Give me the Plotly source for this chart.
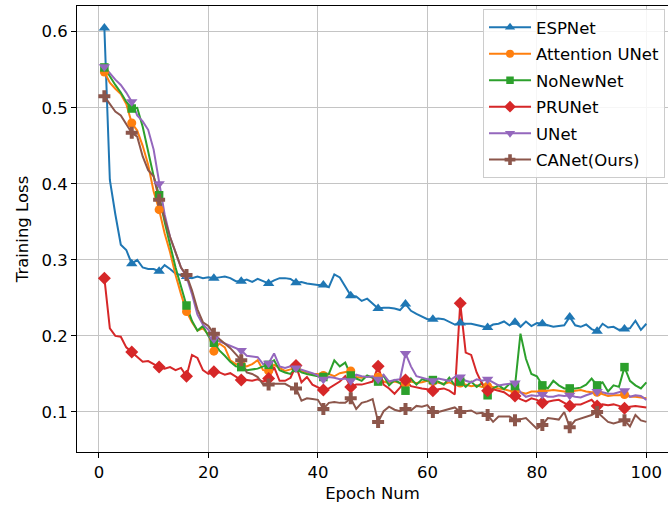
import plotly.graph_objects as go

epochs = list(range(1, 101))

espnet = [0.605, 0.405, 0.360, 0.320, 0.313, 0.295, 0.300, 0.290, 0.288, 0.288,
          0.285, 0.293, 0.288, 0.282, 0.280, 0.278, 0.276, 0.278, 0.276, 0.277,
          0.276, 0.277, 0.278, 0.276, 0.272, 0.272, 0.274, 0.271, 0.275, 0.272,
          0.269, 0.273, 0.276, 0.276, 0.275, 0.270, 0.271, 0.269, 0.268, 0.267,
          0.267, 0.264, 0.281, 0.277, 0.265, 0.253, 0.252, 0.246, 0.249, 0.242,
          0.236, 0.237, 0.237, 0.236, 0.234, 0.242, 0.233, 0.229, 0.226, 0.222,
          0.222, 0.223, 0.222, 0.219, 0.215, 0.217, 0.216, 0.216, 0.214, 0.213,
          0.211, 0.215, 0.216, 0.219, 0.214, 0.218, 0.212, 0.219, 0.213, 0.217,
          0.216, 0.214, 0.212, 0.213, 0.214, 0.225, 0.214, 0.212, 0.215, 0.209,
          0.206, 0.216, 0.211, 0.212, 0.208, 0.209, 0.210, 0.220, 0.208, 0.216]

attention_unet = [0.547, 0.533, 0.525, 0.518, 0.505, 0.480, 0.470, 0.450, 0.425, 0.390,
                  0.366, 0.335, 0.310, 0.280, 0.255, 0.232, 0.218, 0.207, 0.210, 0.202,
                  0.180, 0.190, 0.185, 0.168, 0.163, 0.162, 0.160, 0.163, 0.168, 0.155,
                  0.154, 0.162, 0.158, 0.154, 0.156, 0.158, 0.154, 0.152, 0.150, 0.150,
                  0.148, 0.150, 0.147, 0.151, 0.153, 0.154, 0.146, 0.145, 0.147, 0.146,
                  0.146, 0.140, 0.138, 0.140, 0.138, 0.137, 0.140, 0.138, 0.139, 0.141,
                  0.140, 0.138, 0.137, 0.139, 0.136, 0.138, 0.136, 0.134, 0.135, 0.133,
                  0.134, 0.133, 0.131, 0.130, 0.128, 0.127, 0.126, 0.124, 0.127, 0.127,
                  0.127, 0.128, 0.129, 0.128, 0.127, 0.127, 0.128, 0.129, 0.127, 0.126,
                  0.126, 0.124, 0.121, 0.122, 0.122, 0.123, 0.120, 0.120, 0.119, 0.118]

nonewnet = [0.553, 0.541, 0.530, 0.520, 0.508, 0.499, 0.500, 0.475, 0.442, 0.410,
            0.385, 0.350, 0.320, 0.290, 0.265, 0.240, 0.220, 0.207, 0.213, 0.200,
            0.191, 0.181, 0.174, 0.166, 0.160, 0.159, 0.155, 0.156, 0.157, 0.160,
            0.162, 0.168, 0.155, 0.152, 0.150, 0.158, 0.152, 0.150, 0.148, 0.147,
            0.146, 0.150, 0.168, 0.160, 0.165, 0.148, 0.144, 0.141, 0.148, 0.145,
            0.140, 0.148, 0.135, 0.142, 0.138, 0.128, 0.144, 0.136, 0.143, 0.141,
            0.142, 0.140, 0.136, 0.145, 0.135, 0.140, 0.133, 0.140, 0.133, 0.138,
            0.122, 0.131, 0.135, 0.130, 0.137, 0.134, 0.203, 0.170, 0.150, 0.147,
            0.135, 0.131, 0.141, 0.135, 0.131, 0.131, 0.131, 0.132, 0.136, 0.144,
            0.135, 0.139, 0.127, 0.135, 0.133, 0.159, 0.141, 0.135, 0.131, 0.139]

prunet = [0.276, 0.210, 0.200, 0.199, 0.185, 0.179, 0.172, 0.166, 0.167, 0.163,
          0.159, 0.157, 0.159, 0.155, 0.158, 0.147, 0.175, 0.171, 0.155, 0.150,
          0.153, 0.152, 0.149, 0.151, 0.146, 0.142, 0.142, 0.141, 0.143, 0.140,
          0.144, 0.159, 0.141, 0.141, 0.145, 0.161, 0.139, 0.146, 0.136, 0.133,
          0.129, 0.131, 0.135, 0.140, 0.147, 0.133, 0.136, 0.136, 0.138, 0.140,
          0.160, 0.136, 0.131, 0.124, 0.132, 0.142, 0.134, 0.132, 0.131, 0.130,
          0.128, 0.130, 0.131, 0.128, 0.123, 0.243, 0.178, 0.175, 0.152, 0.137,
          0.128, 0.130, 0.128, 0.126, 0.121, 0.121, 0.117, 0.114, 0.118, 0.116,
          0.112, 0.114, 0.115, 0.116, 0.112, 0.108, 0.110, 0.110, 0.113, 0.116,
          0.108, 0.110, 0.109, 0.110, 0.108, 0.105, 0.107, 0.108, 0.107, 0.106]

unet = [0.554, 0.545, 0.537, 0.530, 0.520, 0.508, 0.490, 0.482, 0.471, 0.445,
        0.400, 0.360, 0.330, 0.310, 0.290, 0.278, 0.255, 0.228, 0.215, 0.208,
        0.196, 0.193, 0.190, 0.186, 0.184, 0.181, 0.174, 0.173, 0.172, 0.163,
        0.164, 0.177, 0.160, 0.158, 0.160, 0.158, 0.156, 0.154, 0.151, 0.148,
        0.143, 0.146, 0.145, 0.143, 0.144, 0.141, 0.149, 0.147, 0.146, 0.147,
        0.143, 0.149, 0.140, 0.142, 0.143, 0.177, 0.160, 0.147, 0.145, 0.144,
        0.141, 0.144, 0.142, 0.141, 0.146, 0.146, 0.141, 0.139, 0.143, 0.141,
        0.143, 0.139, 0.135, 0.136, 0.137, 0.138, 0.126, 0.120, 0.122, 0.121,
        0.123, 0.120, 0.120, 0.122, 0.121, 0.122, 0.120, 0.119, 0.122, 0.124,
        0.127, 0.126, 0.124, 0.124, 0.126, 0.128, 0.120, 0.122, 0.121, 0.116]

canet = [0.515, 0.505, 0.495, 0.490, 0.478, 0.467, 0.462, 0.436, 0.418, 0.410,
         0.379, 0.355, 0.330, 0.310, 0.290, 0.280, 0.260, 0.235, 0.218, 0.213,
         0.203, 0.196, 0.190, 0.184, 0.176, 0.168, 0.152, 0.150, 0.146, 0.136,
         0.136, 0.137, 0.137, 0.137, 0.133, 0.131, 0.115, 0.118, 0.117, 0.116,
         0.104, 0.112, 0.113, 0.112, 0.112, 0.118, 0.104, 0.112, 0.114, 0.117,
         0.087, 0.101, 0.107, 0.103, 0.101, 0.104, 0.102, 0.108, 0.107, 0.109,
         0.100, 0.100, 0.102, 0.104, 0.106, 0.100, 0.101, 0.102, 0.098, 0.099,
         0.096, 0.087, 0.094, 0.094, 0.094, 0.089, 0.091, 0.092, 0.085, 0.078,
         0.083, 0.092, 0.091, 0.090, 0.100, 0.080, 0.089, 0.091, 0.093, 0.096,
         0.100, 0.093, 0.087, 0.085, 0.087, 0.089, 0.081, 0.096, 0.089, 0.087]

series_names = ["ESPNet", "Attention UNet", "NoNewNet", "PRUNet", "UNet", "CANet(Ours)"]
series_values = [espnet, attention_unet, nonewnet, prunet, unet, canet]
colors = ["#1f77b4", "#ff7f0e", "#2ca02c", "#d62728", "#9467bd", "#8c564b"]
symbols = ["triangle-up", "circle", "square", "diamond", "triangle-down", "cross"]
msizes = [10, 9, 8.5, 10, 10, 10]
mark_every = 5

fig = go.Figure()
for name, vals, c, s, ms in zip(series_names, series_values, colors, symbols, msizes):
    fig.add_trace(go.Scatter(x=epochs, y=vals, mode="lines", line=dict(color=c, width=2),
                             showlegend=False, legendgroup=name, hoverinfo="skip"))
for name, vals, c, s, ms in zip(series_names, series_values, colors, symbols, msizes):
    fig.add_trace(go.Scatter(x=epochs[::mark_every], y=vals[::mark_every], mode="markers",
                             marker=dict(color=c, symbol=s, size=ms, line=dict(width=0)),
                             showlegend=False, legendgroup=name))
for name, vals, c, s, ms in zip(series_names, series_values, colors, symbols, msizes):
    fig.add_trace(go.Scatter(x=[None], y=[None], mode="lines+markers", name=name,
                             line=dict(color=c, width=2),
                             marker=dict(color=c, symbol=s, size=ms - 1, line=dict(width=0)),
                             legendgroup=name))

font_family = "DejaVu Sans"
fs = 16.5
fig.update_layout(
    width=668, height=506,
    margin=dict(l=77, r=0, t=6, b=54),
    plot_bgcolor="white", paper_bgcolor="white",
    font=dict(family=font_family, size=fs, color="black"),
    showlegend=True,
    legend=dict(x=0.687, y=0.993, xanchor="left", yanchor="top",
                bgcolor="rgba(255,255,255,0.85)", bordercolor="#cccccc", borderwidth=1,
                font=dict(family=font_family, size=fs, color="black"),
                traceorder="grouped", tracegroupgap=2, itemwidth=42),
    xaxis=dict(range=[-4.0, 103.95], tickvals=[0, 20, 40, 60, 80, 100],
               showgrid=True, gridcolor="#c4c4c4", gridwidth=1, zeroline=False,
               showline=True, linecolor="black", linewidth=1, mirror=True,
               ticks="outside", ticklen=5, tickcolor="black",
               title=dict(text="Epoch Num", standoff=6, font=dict(size=fs))),
    yaxis=dict(range=[0.0474, 0.6338], tickvals=[0.1, 0.2, 0.3, 0.4, 0.5, 0.6],
               ticktext=["0.1", "0.2", "0.3", "0.4", "0.5", "0.6"],
               showgrid=True, gridcolor="#c4c4c4", gridwidth=1, zeroline=False,
               showline=True, linecolor="black", linewidth=1, mirror=False,
               ticks="outside", ticklen=5, tickcolor="black",
               title=dict(text="Training Loss", standoff=8, font=dict(size=fs))),
)

fig.write_html("out.html", post_script="document.body.style.margin='0';",
               config={"displayModeBar": False})
